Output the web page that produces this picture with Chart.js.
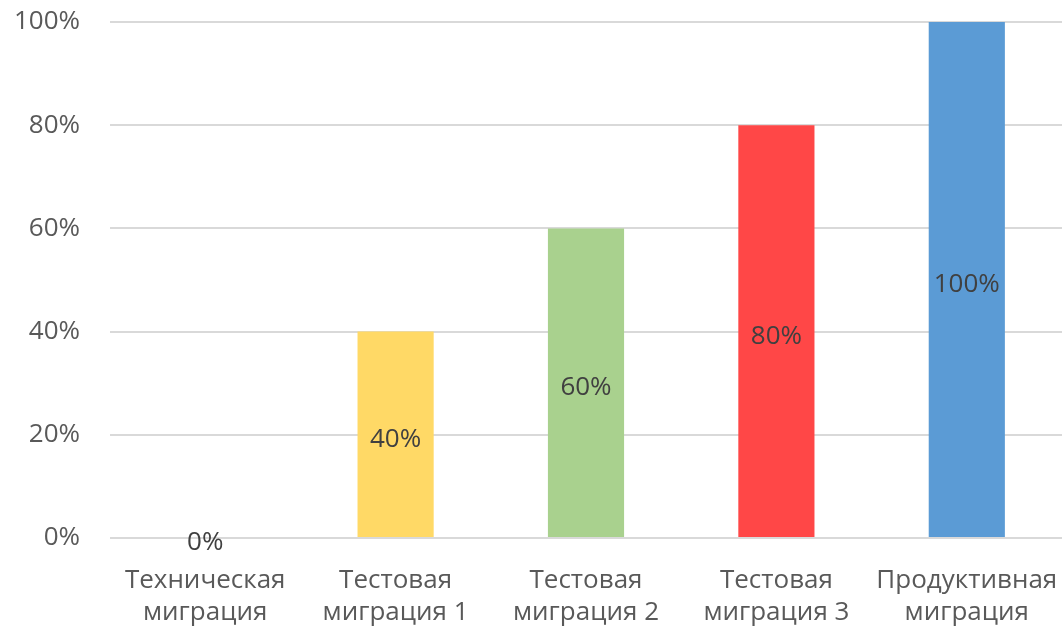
<!DOCTYPE html>
<html>
<head>
<meta charset="utf-8">
<script src="https://cdn.jsdelivr.net/npm/chart.js@4/dist/chart.umd.min.js"></script>
<style>
  html, body { margin: 0; padding: 0; background: #fff; }
  #wrap { width: 1062px; height: 628px; }
</style>
</head>
<body>
<div id="wrap"><canvas id="chart"></canvas></div>
<script>
const categories = [
    ['Техническая', 'миграция'],
    ['Тестовая', 'миграция 1'],
    ['Тестовая', 'миграция 2'],
    ['Тестовая', 'миграция 3'],
    ['Продуктивная', 'миграция']
];
const progress = [0, 40, 60, 80, 100];
const barColors = ['#FFD966', '#FFD966', '#A9D18E', '#FF4747', '#5B9BD5'];
const yTicks = [0, 20, 40, 60, 80, 100];

const fontFamily = '"Open Sans", "DejaVu Sans", sans-serif';

// подписи значений в центре столбца
const centerLabels = {
    id: 'centerLabels',
    afterDatasetsDraw(chart) {
        const ctx = chart.ctx;
        const meta = chart.getDatasetMeta(0);
        ctx.save();
        ctx.font = `26px ${fontFamily}`;
        ctx.fillStyle = '#404040';
        ctx.textAlign = 'center';
        ctx.textBaseline = 'middle';
        meta.data.forEach((bar, i) => {
            const { x, y, base } = bar.getProps(['x', 'y', 'base'], true);
            ctx.fillText(progress[i] + '%', x, (y + base) / 2 + 5);
        });
        ctx.restore();
    }
};

new Chart(document.getElementById('chart'), {
    type: 'bar',
    data: {
        labels: categories,
        datasets: [{
            data: progress,
            backgroundColor: barColors,
            categoryPercentage: 1,
            barPercentage: 0.4
        }]
    },
    options: {
        responsive: true,
        maintainAspectRatio: false,
        animation: false,
        layout: { padding: { top: 22, right: 0, left: 0, bottom: 0 } },
        plugins: { legend: { display: false }, tooltip: { enabled: false } },
        scales: {
            x: {
                grid: { display: false, drawTicks: false },
                border: { display: false },
                ticks: {
                    color: '#595959',
                    font: { family: fontFamily, size: 26, lineHeight: 1.22 },
                    padding: 27,
                    maxRotation: 0,
                    autoSkip: false
                },
                afterFit: (scale) => {
                    scale.height = 90;
                    scale.paddingLeft = 0;
                    scale.paddingRight = 0;
                }
            },
            y: {
                min: 0,
                max: 100,
                afterBuildTicks: (scale) => { scale.ticks = yTicks.map(v => ({ value: v })); },
                grid: { color: '#D9D9D9', lineWidth: 2, drawTicks: false },
                border: { display: false },
                ticks: {
                    color: '#595959',
                    font: { family: fontFamily, size: 26 },
                    padding: 30,
                    callback: (v) => v + '%'
                },
                afterFit: (scale) => {
                    scale.width = 110;
                    scale.paddingTop = 0;
                    scale.paddingBottom = 0;
                }
            }
        }
    },
    plugins: [centerLabels]
});
</script>
</body>
</html>
